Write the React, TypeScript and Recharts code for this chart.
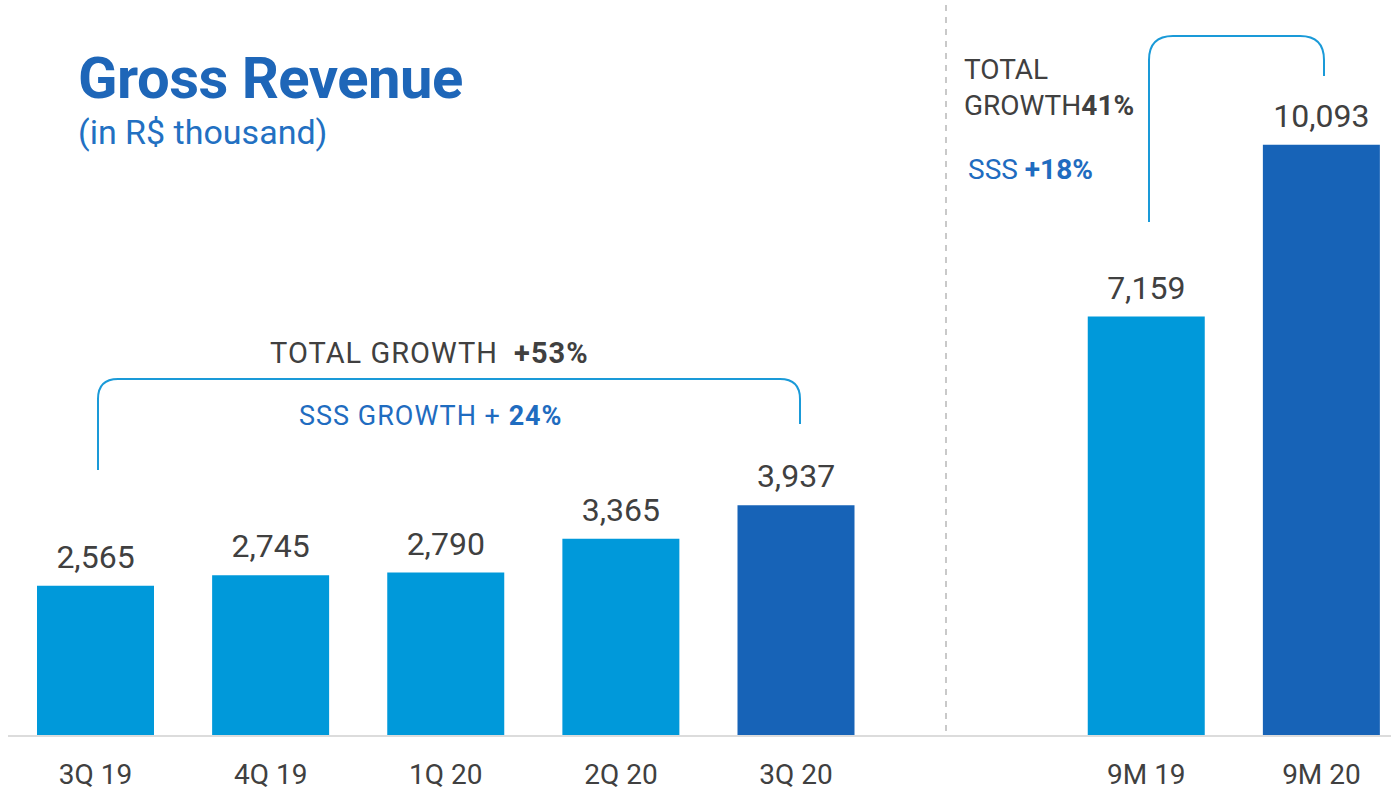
import { Bar, BarChart, Cell, LabelList, XAxis, YAxis } from "recharts";

const CATEGORIES = ["3Q 19", "4Q 19", "1Q 20", "2Q 20", "3Q 20", "", "9M 19", "9M 20"];
const REVENUE = [2565, 2745, 2790, 3365, 3937, null, 7159, 10093];
const HIGHLIGHT = ["3Q 20", "9M 20"];

const LIGHT_BLUE = "#0099da";
const DARK_BLUE = "#1763b7";
const BRACKET = "#1a9ad8";
const TEXT_DARK = "#404040";
const TEXT_BLUE = "#1f6cc0";
const FONT = "Roboto, 'Noto Sans', sans-serif";

const data = CATEGORIES.map((label, i) => ({ label, value: REVENUE[i] }));

export default function App() {
  return (
    <div style={{ position: "fixed", left: 0, top: 0, width: 1391, height: 792, fontFamily: FONT, background: "#fff" }}>
      <div style={{ position: "absolute", left: 8, top: 8, width: 1383, height: 784, overflow: "hidden" }}>
        <BarChart width={1401} height={784} data={data} margin={{ top: 25, right: 0, bottom: 0, left: 0 }}>
          <XAxis
            dataKey="label"
            height={56}
            tickLine={false}
            tickMargin={22}
            axisLine={{ stroke: "#dcdcdc", strokeWidth: 2 }}
            interval={0}
            tick={{ fill: TEXT_DARK, fontSize: 28, fontFamily: FONT }}
          />
          <YAxis hide domain={[0, 12000]} />
          <Bar dataKey="value" barSize={117} isAnimationActive={false}>
            {data.map((entry) => (
              <Cell key={entry.label || "gap"} fill={HIGHLIGHT.includes(entry.label) ? DARK_BLUE : LIGHT_BLUE} />
            ))}
            <LabelList
              dataKey="value"
              position="top"
              offset={18}
              formatter={(v: number) => (v == null ? "" : v.toLocaleString("en-US"))}
              fill={TEXT_DARK}
              fontSize={32}
              fontFamily={FONT}
            />
          </Bar>
        </BarChart>
      </div>

      <svg width={1391} height={792} style={{ position: "absolute", left: 0, top: 0, pointerEvents: "none" }}>
        <line x1={946} y1={5} x2={946} y2={735} stroke="#b8b8b8" strokeWidth={1.5} strokeDasharray="6 6" />

        <path d="M98 470 V399 Q98 379 118 379 H780 Q800 379 800 399 V424" fill="none" stroke={BRACKET} strokeWidth={2} />
        <path d="M1149 222 V60 Q1149 36 1173 36 H1300 Q1324 36 1324 60 V76" fill="none" stroke={BRACKET} strokeWidth={2} />

        <text x={270} y={363} fontSize={29} letterSpacing={1} fill={TEXT_DARK} fontFamily={FONT}>
          TOTAL GROWTH <tspan dx={8} fontWeight={700}>+53%</tspan>
        </text>
        <text x={299} y={425} fontSize={27} letterSpacing={1} fill={TEXT_BLUE} fontFamily={FONT}>
          SSS GROWTH + <tspan fontWeight={700}>24%</tspan>
        </text>

        <text x={964} y={79} fontSize={28} fill={TEXT_DARK} fontFamily={FONT}>TOTAL</text>
        <text x={964} y={115} fontSize={28} fill={TEXT_DARK} fontFamily={FONT}>
          GROWTH<tspan fontWeight={700}>41%</tspan>
        </text>
        <text x={968} y={179} fontSize={28} fill={TEXT_BLUE} fontFamily={FONT}>
          SSS <tspan fontWeight={700}>+18%</tspan>
        </text>
      </svg>

      <div style={{ position: "absolute", left: 78, top: 48, color: "#1e66b8", fontWeight: 700, fontSize: 58, lineHeight: "60px", letterSpacing: -0.5 }}>
        Gross Revenue
      </div>
      <div style={{ position: "absolute", left: 78, top: 112, color: "#2270c2", fontSize: 34, lineHeight: "40px" }}>
        (in R$ thousand)
      </div>
    </div>
  );
}
